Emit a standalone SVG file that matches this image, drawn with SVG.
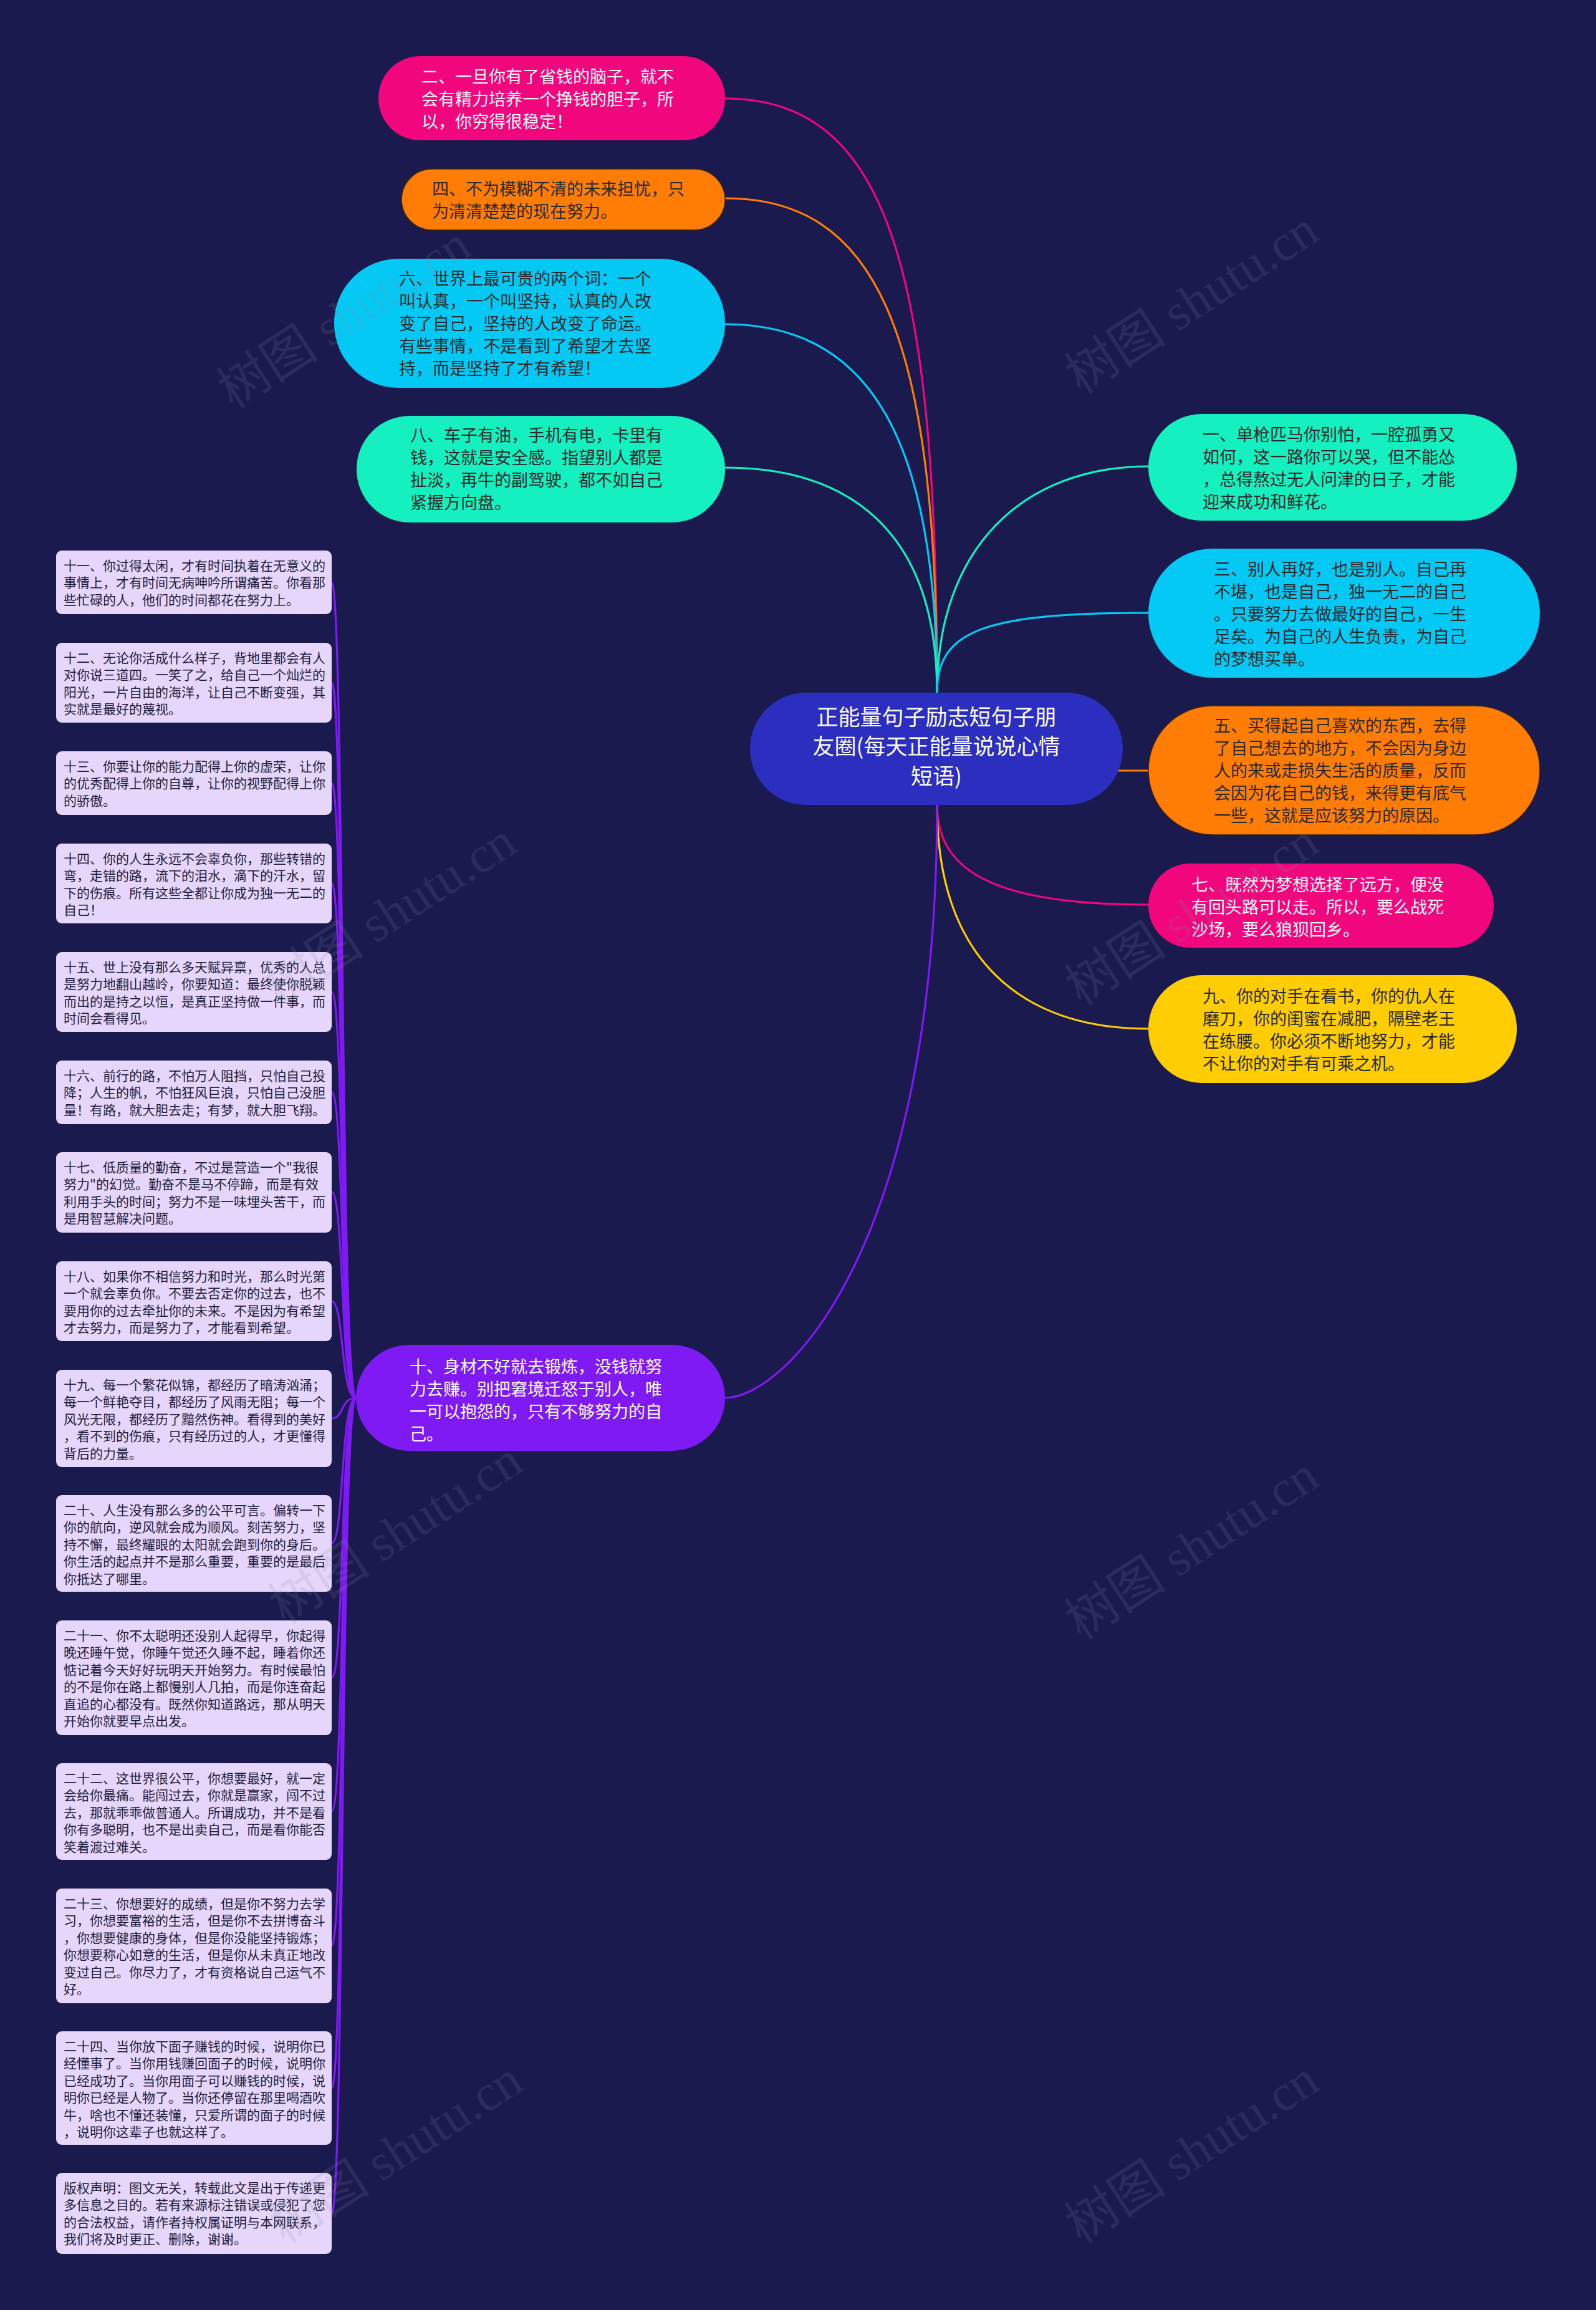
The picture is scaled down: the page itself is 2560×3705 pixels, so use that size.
<svg xmlns="http://www.w3.org/2000/svg" width="2560" height="3705" viewBox="0 0 2560 3705">
<style>
.cjk{font-family:"Noto Sans CJK SC","Noto Sans CJK JP",sans-serif}
.t27{font-size:27px}
.t21{font-size:21px;fill:#1e1e3c}
.t35{font-size:35px;fill:#ffffff}
.lt{fill:#ffffff}
.dk{fill:#2a2a2a}
.box{fill:#E7D6FB}
.c{fill:none;stroke-width:3.2;stroke-linecap:round}
.wm{font-family:"Liberation Serif","Noto Sans CJK SC",serif;font-size:82px;fill:#8a8aa0;opacity:0.16}
</style>
<rect x="0" y="0" width="2560" height="3705" fill="#1A1A4F"/>
<g id="connectors">
<path class="c" stroke="#F1067E" d="M1163,158 C1420,158 1503,420 1503,1111"/>
<path class="c" stroke="#FF7D05" d="M1163,318 C1400,318 1503,520 1503,1111"/>
<path class="c" stroke="#03C9F4" d="M1163,520 C1380,520 1503,680 1503,1111"/>
<path class="c" stroke="#15F0C0" d="M1163,750 C1360,750 1503,850 1503,1111"/>
<path class="c" stroke="#15F0C0" d="M1503,1111 C1503,880 1640,748 1842,748"/>
<path class="c" stroke="#03C9F4" d="M1503,1111 C1503,1010 1580,983 1842,983"/>
<path class="c" stroke="#FF7D05" d="M1700,1236 L1842,1236"/>
<path class="c" stroke="#F1067E" d="M1503,1291 C1503,1400 1600,1451 1842,1451"/>
<path class="c" stroke="#FFCD02" d="M1503,1291 C1503,1540 1640,1650 1842,1650"/>
<path class="c" stroke="#7F1AF5" d="M1503,1291 C1503,2000 1260,2242 1163,2242"/>
<g stroke="#7F1AF5">
<path class="c" d="M532,934 C552,934 546,2242 571,2242"/>
<path class="c" d="M532,1095 C552,1095 546,2242 571,2242"/>
<path class="c" d="M532,1256 C552,1256 546,2242 571,2242"/>
<path class="c" d="M532,1417 C552,1417 546,2242 571,2242"/>
<path class="c" d="M532,1591 C552,1591 546,2242 571,2242"/>
<path class="c" d="M532,1752 C552,1752 546,2242 571,2242"/>
<path class="c" d="M532,1912 C552,1912 546,2242 571,2242"/>
<path class="c" d="M532,2087 C552,2087 546,2242 571,2242"/>
<path class="c" d="M532,2275 C552,2275 546,2242 571,2242"/>
<path class="c" d="M532,2475 C552,2475 546,2242 571,2242"/>
<path class="c" d="M532,2691 C552,2691 546,2242 571,2242"/>
<path class="c" d="M532,2905 C552,2905 546,2242 571,2242"/>
<path class="c" d="M532,3121 C552,3121 546,2242 571,2242"/>
<path class="c" d="M532,3349 C552,3349 546,2242 571,2242"/>
<path class="c" d="M532,3550 C552,3550 546,2242 571,2242"/>
</g>
</g>

<g id="center">
<rect x="1203" y="1111" width="598" height="180" rx="90" fill="#2B2EBE"/>
<text class="cjk t35" text-anchor="middle"><tspan x="1502" y="1163">正能量句子励志短句子朋</tspan><tspan x="1502" y="1210">友圈(每天正能量说说心情</tspan><tspan x="1502" y="1258">短语)</tspan></text>
</g>

<g id="n2">
<rect x="607" y="90" width="556" height="135" rx="67" fill="#F1067E"/>
<text class="cjk t27 lt"><tspan x="676" y="133">二、一旦你有了省钱的脑子，就不</tspan><tspan x="676" y="169">会有精力培养一个挣钱的胆子，所</tspan><tspan x="676" y="205">以，你穷得很稳定！</tspan></text>
</g>
<g id="n4">
<rect x="644" y="271" width="519" height="98" rx="49" fill="#FF7D05" stroke="#3a2410" stroke-width="1.5"/>
<text class="cjk t27 dk"><tspan x="693" y="313">四、不为模糊不清的未来担忧，只</tspan><tspan x="693" y="349">为清清楚楚的现在努力。</tspan></text>
</g>
<g id="n6">
<rect x="536" y="415" width="627" height="207" rx="103" fill="#03C9F4"/>
<text class="cjk t27 dk"><tspan x="640" y="457">六、世界上最可贵的两个词：一个</tspan><tspan x="640" y="493">叫认真，一个叫坚持，认真的人改</tspan><tspan x="640" y="529">变了自己，坚持的人改变了命运。</tspan><tspan x="640" y="565">有些事情，不是看到了希望才去坚</tspan><tspan x="640" y="601">持，而是坚持了才有希望！</tspan></text>
</g>
<g id="n8">
<rect x="572" y="667" width="591" height="171" rx="85" fill="#15F0C0"/>
<text class="cjk t27 dk"><tspan x="658" y="708">八、车子有油，手机有电，卡里有</tspan><tspan x="658" y="744">钱，这就是安全感。指望别人都是</tspan><tspan x="658" y="780">扯淡，再牛的副驾驶，都不如自己</tspan><tspan x="658" y="816">紧握方向盘。</tspan></text>
</g>
<g id="n1">
<rect x="1842" y="664" width="591" height="171" rx="85" fill="#15F0C0"/>
<text class="cjk t27 dk"><tspan x="1929" y="707">一、单枪匹马你别怕，一腔孤勇又</tspan><tspan x="1929" y="743">如何，这一路你可以哭，但不能怂</tspan><tspan x="1929" y="779">，总得熬过无人问津的日子，才能</tspan><tspan x="1929" y="815">迎来成功和鲜花。</tspan></text>
</g>
<g id="n3">
<rect x="1842" y="880" width="628" height="207" rx="103" fill="#03C9F4"/>
<text class="cjk t27 dk"><tspan x="1947" y="923">三、别人再好，也是别人。自己再</tspan><tspan x="1947" y="959">不堪，也是自己，独一无二的自己</tspan><tspan x="1947" y="995">。只要努力去做最好的自己，一生</tspan><tspan x="1947" y="1031">足矣。为自己的人生负责，为自己</tspan><tspan x="1947" y="1067">的梦想买单。</tspan></text>
</g>
<g id="n5">
<rect x="1842" y="1132" width="628" height="207" rx="103" fill="#FF7D05" stroke="#3a2410" stroke-width="1.5"/>
<text class="cjk t27 dk"><tspan x="1947" y="1174">五、买得起自己喜欢的东西，去得</tspan><tspan x="1947" y="1210">了自己想去的地方，不会因为身边</tspan><tspan x="1947" y="1246">人的来或走损失生活的质量，反而</tspan><tspan x="1947" y="1282">会因为花自己的钱，来得更有底气</tspan><tspan x="1947" y="1318">一些，这就是应该努力的原因。</tspan></text>
</g>
<g id="n7">
<rect x="1842" y="1385" width="554" height="135" rx="67" fill="#F1067E"/>
<text class="cjk t27 lt"><tspan x="1911" y="1429">七、既然为梦想选择了远方，便没</tspan><tspan x="1911" y="1465">有回头路可以走。所以，要么战死</tspan><tspan x="1911" y="1501">沙场，要么狼狈回乡。</tspan></text>
</g>
<g id="n9">
<rect x="1842" y="1564" width="591" height="173" rx="86" fill="#FFCD02"/>
<text class="cjk t27 dk"><tspan x="1929" y="1608">九、你的对手在看书，你的仇人在</tspan><tspan x="1929" y="1644">磨刀，你的闺蜜在减肥，隔壁老王</tspan><tspan x="1929" y="1680">在练腰。你必须不断地努力，才能</tspan><tspan x="1929" y="1716">不让你的对手有可乘之机。</tspan></text>
</g>
<g id="n10">
<rect x="571" y="2157" width="592" height="170" rx="85" fill="#7F1AF5"/>
<text class="cjk t27 lt"><tspan x="657" y="2202">十、身材不好就去锻炼，没钱就努</tspan><tspan x="657" y="2238">力去赚。别把窘境迁怒于别人，唯</tspan><tspan x="657" y="2274">一可以抱怨的，只有不够努力的自</tspan><tspan x="657" y="2310">己。</tspan></text>
</g>

<g id="n11"><rect class="box" x="90" y="883" width="442" height="102" rx="9"/>
<text class="cjk t21"><tspan x="102" y="915">十一、你过得太闲，才有时间执着在无意义的</tspan><tspan x="102" y="942">事情上，才有时间无病呻吟所谓痛苦。你看那</tspan><tspan x="102" y="970">些忙碌的人，他们的时间都花在努力上。</tspan></text></g>
<g id="n12"><rect class="box" x="90" y="1031" width="442" height="128" rx="9"/>
<text class="cjk t21"><tspan x="102" y="1063">十二、无论你活成什么样子，背地里都会有人</tspan><tspan x="102" y="1090">对你说三道四。一笑了之，给自己一个灿烂的</tspan><tspan x="102" y="1118">阳光，一片自由的海洋，让自己不断变强，其</tspan><tspan x="102" y="1145">实就是最好的蔑视。</tspan></text></g>
<g id="n13"><rect class="box" x="90" y="1205" width="442" height="102" rx="9"/>
<text class="cjk t21"><tspan x="102" y="1237">十三、你要让你的能力配得上你的虚荣，让你</tspan><tspan x="102" y="1264">的优秀配得上你的自尊，让你的视野配得上你</tspan><tspan x="102" y="1292">的骄傲。</tspan></text></g>
<g id="n14"><rect class="box" x="90" y="1353" width="442" height="128" rx="9"/>
<text class="cjk t21"><tspan x="102" y="1385">十四、你的人生永远不会辜负你，那些转错的</tspan><tspan x="102" y="1412">弯，走错的路，流下的泪水，滴下的汗水，留</tspan><tspan x="102" y="1440">下的伤痕。所有这些全都让你成为独一无二的</tspan><tspan x="102" y="1467">自己！</tspan></text></g>
<g id="n15"><rect class="box" x="90" y="1527" width="442" height="128" rx="9"/>
<text class="cjk t21"><tspan x="102" y="1559">十五、世上没有那么多天赋异禀，优秀的人总</tspan><tspan x="102" y="1586">是努力地翻山越岭，你要知道：最终使你脱颖</tspan><tspan x="102" y="1614">而出的是持之以恒，是真正坚持做一件事，而</tspan><tspan x="102" y="1641">时间会看得见。</tspan></text></g>
<g id="n16"><rect class="box" x="90" y="1701" width="442" height="102" rx="9"/>
<text class="cjk t21"><tspan x="102" y="1733">十六、前行的路，不怕万人阻挡，只怕自己投</tspan><tspan x="102" y="1760">降；人生的帆，不怕狂风巨浪，只怕自己没胆</tspan><tspan x="102" y="1788">量！有路，就大胆去走；有梦，就大胆飞翔。</tspan></text></g>
<g id="n17"><rect class="box" x="90" y="1848" width="442" height="129" rx="9"/>
<text class="cjk t21"><tspan x="102" y="1880">十七、低质量的勤奋，不过是营造一个"我很</tspan><tspan x="102" y="1907">努力"的幻觉。勤奋不是马不停蹄，而是有效</tspan><tspan x="102" y="1935">利用手头的时间；努力不是一味埋头苦干，而</tspan><tspan x="102" y="1962">是用智慧解决问题。</tspan></text></g>
<g id="n18"><rect class="box" x="90" y="2023" width="442" height="128" rx="9"/>
<text class="cjk t21"><tspan x="102" y="2055">十八、如果你不相信努力和时光，那么时光第</tspan><tspan x="102" y="2082">一个就会辜负你。不要去否定你的过去，也不</tspan><tspan x="102" y="2110">要用你的过去牵扯你的未来。不是因为有希望</tspan><tspan x="102" y="2137">才去努力，而是努力了，才能看到希望。</tspan></text></g>
<g id="n19"><rect class="box" x="90" y="2197" width="442" height="156" rx="9"/>
<text class="cjk t21"><tspan x="102" y="2229">十九、每一个繁花似锦，都经历了暗涛汹涌；</tspan><tspan x="102" y="2256">每一个鲜艳夺目，都经历了风雨无阻；每一个</tspan><tspan x="102" y="2284">风光无限，都经历了黯然伤神。看得到的美好</tspan><tspan x="102" y="2311">，看不到的伤痕，只有经历过的人，才更懂得</tspan><tspan x="102" y="2339">背后的力量。</tspan></text></g>
<g id="n20"><rect class="box" x="90" y="2398" width="442" height="155" rx="9"/>
<text class="cjk t21"><tspan x="102" y="2430">二十、人生没有那么多的公平可言。偏转一下</tspan><tspan x="102" y="2457">你的航向，逆风就会成为顺风。刻苦努力，坚</tspan><tspan x="102" y="2485">持不懈，最终耀眼的太阳就会跑到你的身后。</tspan><tspan x="102" y="2512">你生活的起点并不是那么重要，重要的是最后</tspan><tspan x="102" y="2540">你抵达了哪里。</tspan></text></g>
<g id="n21"><rect class="box" x="90" y="2599" width="442" height="184" rx="9"/>
<text class="cjk t21"><tspan x="102" y="2631">二十一、你不太聪明还没别人起得早，你起得</tspan><tspan x="102" y="2658">晚还睡午觉，你睡午觉还久睡不起，睡着你还</tspan><tspan x="102" y="2686">惦记着今天好好玩明天开始努力。有时候最怕</tspan><tspan x="102" y="2713">的不是你在路上都慢别人几拍，而是你连奋起</tspan><tspan x="102" y="2741">直追的心都没有。既然你知道路远，那从明天</tspan><tspan x="102" y="2768">开始你就要早点出发。</tspan></text></g>
<g id="n22"><rect class="box" x="90" y="2828" width="442" height="155" rx="9"/>
<text class="cjk t21"><tspan x="102" y="2860">二十二、这世界很公平，你想要最好，就一定</tspan><tspan x="102" y="2887">会给你最痛。能闯过去，你就是赢家，闯不过</tspan><tspan x="102" y="2915">去，那就乖乖做普通人。所谓成功，并不是看</tspan><tspan x="102" y="2942">你有多聪明，也不是出卖自己，而是看你能否</tspan><tspan x="102" y="2970">笑着渡过难关。</tspan></text></g>
<g id="n23"><rect class="box" x="90" y="3029" width="442" height="184" rx="9"/>
<text class="cjk t21"><tspan x="102" y="3061">二十三、你想要好的成绩，但是你不努力去学</tspan><tspan x="102" y="3088">习，你想要富裕的生活，但是你不去拼博奋斗</tspan><tspan x="102" y="3116">，你想要健康的身体，但是你没能坚持锻炼；</tspan><tspan x="102" y="3143">你想要称心如意的生活，但是你从未真正地改</tspan><tspan x="102" y="3171">变过自己。你尽力了，才有资格说自己运气不</tspan><tspan x="102" y="3198">好。</tspan></text></g>
<g id="n24"><rect class="box" x="90" y="3258" width="442" height="182" rx="9"/>
<text class="cjk t21"><tspan x="102" y="3290">二十四、当你放下面子赚钱的时候，说明你已</tspan><tspan x="102" y="3317">经懂事了。当你用钱赚回面子的时候，说明你</tspan><tspan x="102" y="3345">已经成功了。当你用面子可以赚钱的时候，说</tspan><tspan x="102" y="3372">明你已经是人物了。当你还停留在那里喝酒吹</tspan><tspan x="102" y="3400">牛，啥也不懂还装懂，只爱所谓的面子的时候</tspan><tspan x="102" y="3427">，说明你这辈子也就这样了。</tspan></text></g>
<g id="n25"><rect class="box" x="90" y="3485" width="442" height="130" rx="9"/>
<text class="cjk t21"><tspan x="102" y="3517">版权声明：图文无关，转载此文是出于传递更</tspan><tspan x="102" y="3544">多信息之目的。若有来源标注错误或侵犯了您</tspan><tspan x="102" y="3572">的合法权益，请作者持权属证明与本网联系，</tspan><tspan x="102" y="3599">我们将及时更正、删除，谢谢。</tspan></text></g>

<g id="watermarks">
<text class="wm" x="567" y="532" text-anchor="middle" transform="rotate(-33 567 532)">树图 shutu.cn</text>
<text class="wm" x="1927" y="508" text-anchor="middle" transform="rotate(-33 1927 508)">树图 shutu.cn</text>
<text class="wm" x="640" y="1489" text-anchor="middle" transform="rotate(-33 640 1489)">树图 shutu.cn</text>
<text class="wm" x="1927" y="1489" text-anchor="middle" transform="rotate(-33 1927 1489)">树图 shutu.cn</text>
<text class="wm" x="650" y="2482" text-anchor="middle" transform="rotate(-33 650 2482)">树图 shutu.cn</text>
<text class="wm" x="1927" y="2506" text-anchor="middle" transform="rotate(-33 1927 2506)">树图 shutu.cn</text>
<text class="wm" x="650" y="3475" text-anchor="middle" transform="rotate(-33 650 3475)">树图 shutu.cn</text>
<text class="wm" x="1927" y="3475" text-anchor="middle" transform="rotate(-33 1927 3475)">树图 shutu.cn</text>
</g>
</svg>
